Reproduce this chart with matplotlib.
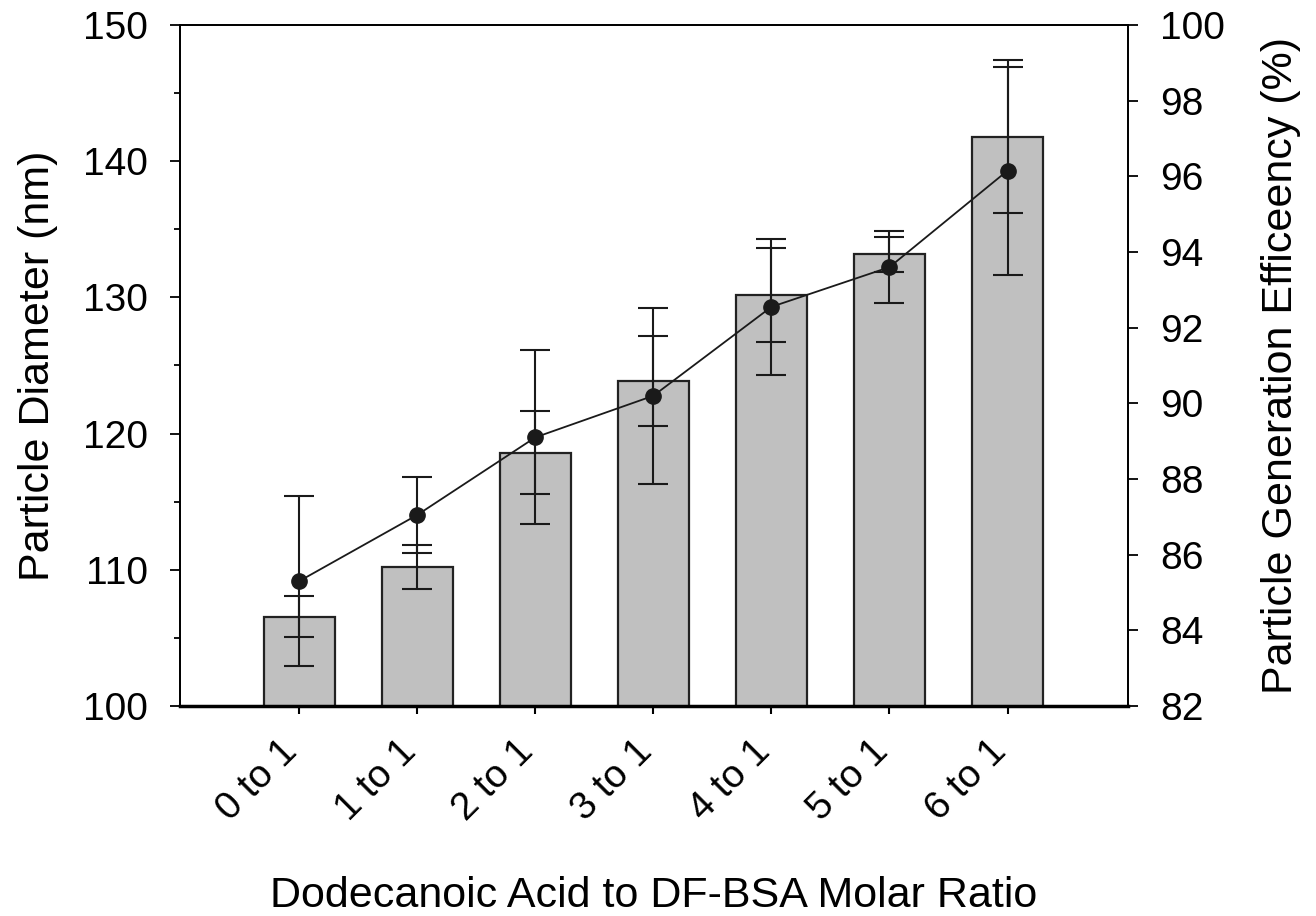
import numpy as np
import matplotlib
matplotlib.use('Agg')
import matplotlib.pyplot as plt
from matplotlib.ticker import MultipleLocator

plt.rcParams['font.family'] = ['Liberation Sans', 'DejaVu Sans']

ratios = ['0 to 1', '1 to 1', '2 to 1', '3 to 1', '4 to 1', '5 to 1', '6 to 1']
diameter = [106.55, 110.2, 118.6, 123.85, 130.2, 133.15, 141.8]
diameter_err = [1.5, 1.6, 3.05, 3.3, 3.45, 1.3, 5.6]
efficiency = [85.3, 87.05, 89.1, 90.2, 92.55, 93.6, 96.15]
efficiency_err = [2.25, 1.0, 2.3, 2.32, 1.8, 0.95, 2.75]

fig = plt.figure(figsize=(13.16, 9.16), dpi=100)
ax = fig.add_axes([0.1368, 0.2293, 0.7203, 0.7434])
x = np.arange(len(ratios))

ax.bar(x, diameter, width=0.6, color='#c0c0c0', edgecolor='#222222', linewidth=1.6, zorder=2)
ax.errorbar(x, diameter, yerr=diameter_err, fmt='none', ecolor='#1a1a1a',
            elinewidth=1.5, capsize=10.5, capthick=1.5, zorder=3)

ax.set_xlim(-1.01, 7.02)
ax.set_ylim(100, 150)
ax.yaxis.set_major_locator(MultipleLocator(10))
ax.yaxis.set_minor_locator(MultipleLocator(5))
ax.set_xticks(x)
ax.set_xticklabels(ratios, rotation=45, ha='right', va='baseline',
                   rotation_mode='anchor', fontsize=28)
ax.tick_params(axis='y', which='major', length=7, width=1.3, labelsize=28, pad=16)
ax.tick_params(axis='y', which='minor', length=4, width=1.3)
ax.tick_params(axis='x', length=6, width=1.5, pad=28)
ax.set_ylabel('Particle Diameter (nm)', fontsize=31, labelpad=18)
ax.set_xlabel('Dodecanoic Acid to DF-BSA Molar Ratio', fontsize=31, labelpad=35)

for s in ['left', 'top', 'right']:
    ax.spines[s].set_linewidth(1.3)
ax.spines['bottom'].set_linewidth(2.5)

ax2 = ax.twinx()
ax2.errorbar(x, efficiency, yerr=efficiency_err, fmt='-o', color='#1a1a1a',
             ms=11, lw=1.3, elinewidth=1.5, capsize=10.5, capthick=1.5, zorder=4)
ax2.set_ylim(82, 100)
ax2.yaxis.set_major_locator(MultipleLocator(2))
ax2.tick_params(axis='y', length=7, width=1.3, labelsize=28, pad=16)
ax2.set_ylabel('Particle Generation Efficeency (%)', fontsize=31, labelpad=26)
for s in ax2.spines.values():
    s.set_linewidth(1.3)
ax2.spines['bottom'].set_visible(False)

fig.savefig('out.png', dpi=100)
